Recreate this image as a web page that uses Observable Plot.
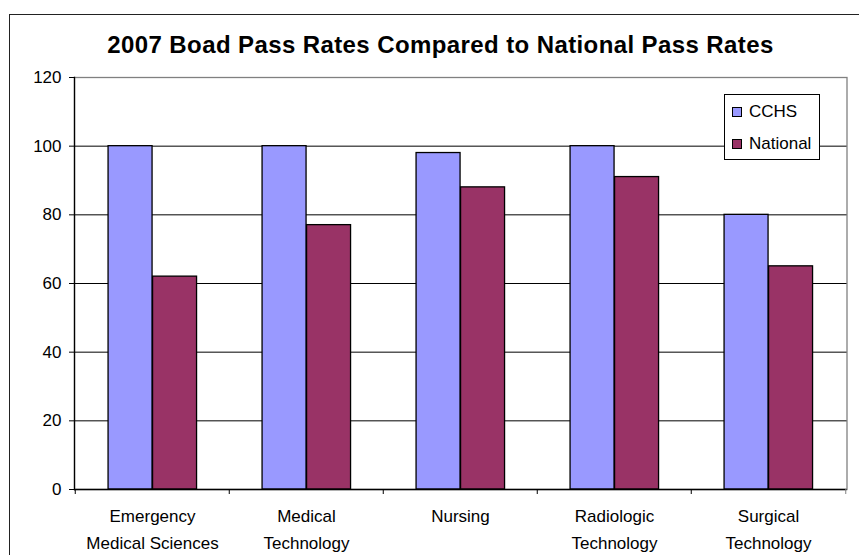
<!DOCTYPE html>
<html><head><meta charset="utf-8">
<script src="https://cdn.jsdelivr.net/npm/d3@7"></script>
<script src="https://cdn.jsdelivr.net/npm/@observablehq/plot@0.6"></script>
<style>
body{margin:0;background:#fff;font-family:"Liberation Sans",Arial,sans-serif;}
#wrap{position:relative;width:859px;height:555px;overflow:hidden;background:#fff;}
#chart{position:absolute;left:0;top:0;}
#border{position:absolute;left:9px;top:14px;width:900px;height:600px;border-left:1.5px solid #222;border-top:1.5px solid #222;}
#title{position:absolute;left:0;width:881px;top:33px;text-align:center;font-weight:bold;font-size:24px;line-height:24px;letter-spacing:0.4px;white-space:nowrap;}
#legend{position:absolute;left:724px;top:94px;width:94px;height:64px;border:1px solid #000;background:#fff;font-size:17px;}
.li{position:absolute;left:7px;height:18px;line-height:18px;white-space:nowrap;}
.sw{display:inline-block;width:8px;height:8px;border:1px solid #000;margin-right:7px;vertical-align:0px;}
</style></head>
<body><div id="wrap"><div id="border"></div><div id="chart"></div><div id="title"></div><div id="legend"></div></div>
<script>
const categories = ["Emergency\nMedical Sciences","Medical\nTechnology","Nursing","Radiologic\nTechnology","Surgical\nTechnology"];
const series = ["CCHS","National"];
const cchsValues = [100,100,98,100,80];
const nationalValues = [62,77,88,91,65];
const yTicks = [0,20,40,60,80,100,120];
const colors = ["#9999FF","#993366"];
const title = "2007 Boad Pass Rates Compared to National Pass Rates";

const data = categories.flatMap((c,i)=>[
  {category:c, series:"CCHS", value:cchsValues[i]},
  {category:c, series:"National", value:nationalValues[i]}
]);

const W=859,H=555,mL=74,mR=12.5,mT=77,mB=66;
const step=(W-mL-mR)/categories.length;
const outer=step*0.214, barW=step*0.288;

const chart = Plot.plot({
  width:W,height:H,marginLeft:mL,marginRight:mR,marginTop:mT,marginBottom:mB,
  style:{fontFamily:"Liberation Sans, Arial, sans-serif",fontSize:"17px",color:"#000",background:"transparent",overflow:"visible"},
  x:{domain:categories,padding:0,label:null,axis:null},
  y:{domain:[0,120],label:null,axis:null},
  color:{domain:series,range:colors},
  marks:[
    Plot.frame({stroke:"#808080",strokeWidth:1.3}),
    Plot.ruleY(yTicks.filter(t=>t>0&&t<120),{stroke:"#000",strokeWidth:1}),
    Plot.barY(data.filter(d=>d.series==="CCHS"),{x:"category",y:"value",fill:d=>d.series,stroke:"#000",strokeWidth:1.3,insetLeft:outer,insetRight:step-outer-barW}),
    Plot.barY(data.filter(d=>d.series==="National"),{x:"category",y:"value",fill:d=>d.series,stroke:"#000",strokeWidth:1.3,insetLeft:outer+barW,insetRight:step-outer-2*barW}),
    Plot.frame({anchor:"left",stroke:"#000",strokeWidth:1.3}),
    Plot.ruleY([0],{stroke:"#000",strokeWidth:1.3}),
    Plot.axisY({ticks:yTicks,tickSize:5,tickPadding:8,fontSize:17,stroke:"#000"}),
    Plot.axisX({tickSize:5,dx:-step/2,tickFormat:()=>"",stroke:"#000"}),
    Plot.axisX([categories[categories.length-1]],{tickSize:5,dx:step/2,tickFormat:()=>"",stroke:"#808080"}),
    Plot.axisX({tickSize:0,tickPadding:14,fontSize:17,lineHeight:1.55})
  ]
});
document.getElementById("chart").appendChild(chart);
document.getElementById("title").textContent=title;
const lg=document.getElementById("legend");
series.forEach((s,i)=>{
  const d=document.createElement("div");d.className="li";d.style.top=(i===0?8:40)+"px";
  const sw=document.createElement("span");sw.className="sw";sw.style.background=colors[i];
  d.appendChild(sw);d.appendChild(document.createTextNode(s));lg.appendChild(d);
});
</script></body></html>
